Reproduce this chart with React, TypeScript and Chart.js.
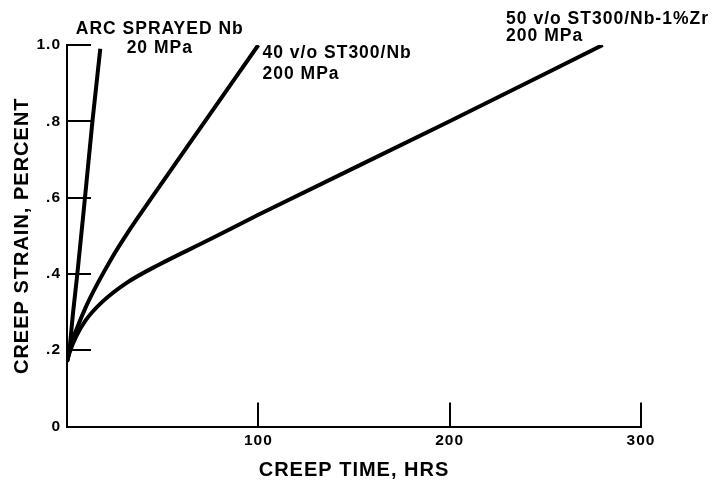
import React, { useEffect, useRef } from "react";
import { Chart, registerables } from "chart.js";

Chart.register(...registerables);

// ---- data ----
const arcTime = [0, 1.2, 3.2, 5.4, 9.4, 13.3, 17.4];
const arcStrain = [0.17, 0.2, 0.3, 0.4, 0.6, 0.8, 0.99];

const st40Time = [0, 2, 5, 10, 16, 23, 32, 45, 70, 100];
const st40Strain = [0.17, 0.213, 0.255, 0.315, 0.375, 0.438, 0.51, 0.605, 0.785, 1.0];

const st50Time = [0, 1.3, 4.8, 10, 18.7, 31, 48, 74.5, 100, 200, 280];
const st50Strain = [0.17, 0.193, 0.236, 0.28, 0.328, 0.376, 0.424, 0.49, 0.555, 0.8, 1.0];

const xTickValues = [0, 100, 200, 300];
const xTickLabels = ["", "100", "200", "300"];
const yTickValues = [0, 0.2, 0.4, 0.6, 0.8, 1.0];
const yTickLabels = ["0", ".2", ".4", ".6", ".8", "1.0"];

const seriesNames = ["ARC SPRAYED Nb", "40 v/o ST300/Nb", "50 v/o ST300/Nb-1%Zr"];
const seriesStress = ["20 MPa", "200 MPa", "200 MPa"];

const xTitle = "CREEP TIME, HRS";
const yTitle = "CREEP STRAIN, PERCENT";

// label anchors (data coordinates) and alignment
const labelAnchors = [
  { x: 48.5, y1: 1.041, y2: 0.991, align: "center" },
  { x: 102.2, y1: 0.979, y2: 0.9235, align: "left" },
  { x: 229.5, y1: 1.067, y2: 1.0236, align: "left" },
];

const FONT = '"Liberation Sans", Arial, Helvetica, sans-serif';

const toPoints = (xs: number[], ys: number[]) => xs.map((x, i) => ({ x, y: ys[i] }));

const spacingPlugin = {
  id: "spacing",
  beforeDraw(chart: any) {
    chart.ctx.letterSpacing = "1px";
  },
};

const decorPlugin = {
  id: "decor",
  afterDatasetsDraw(chart: any) {
    const { ctx, scales } = chart;
    const x = scales.x;
    const y = scales.y;
    ctx.save();
    ctx.strokeStyle = "#000";
    ctx.lineWidth = 2;
    ctx.beginPath();
    y.ticks.forEach((t: any) => {
      if (t.value === 0) return;
      const py = Math.round(y.getPixelForValue(t.value));
      ctx.moveTo(x.left, py);
      ctx.lineTo(x.left + 24, py);
    });
    x.ticks.forEach((t: any) => {
      if (t.value === 0) return;
      const px = Math.round(x.getPixelForValue(t.value));
      ctx.moveTo(px, y.bottom);
      ctx.lineTo(px, y.bottom - 24);
    });
    ctx.stroke();

    ctx.fillStyle = "#000";
    ctx.font = `bold 17.5px ${FONT}`;
    ctx.textBaseline = "middle";
    labelAnchors.forEach((a, i) => {
      ctx.textAlign = a.align;
      const px = x.getPixelForValue(a.x);
      ctx.fillText(seriesNames[i], px, y.getPixelForValue(a.y1));
      ctx.fillText(seriesStress[i], px, y.getPixelForValue(a.y2));
    });
    ctx.restore();
  },
};

export default function App() {
  const canvasRef = useRef<HTMLCanvasElement | null>(null);

  useEffect(() => {
    const canvas = canvasRef.current;
    if (!canvas) return;
    const lineStyle = {
      borderColor: "#000",
      backgroundColor: "#000",
      borderWidth: 4,
      pointRadius: 0,
      fill: false,
      cubicInterpolationMode: "monotone" as const,
    };
    const chart = new Chart(canvas, {
      type: "line",
      data: {
        datasets: [
          { label: seriesNames[0], data: toPoints(arcTime, arcStrain), ...lineStyle },
          { label: seriesNames[1], data: toPoints(st40Time, st40Strain), ...lineStyle },
          { label: seriesNames[2], data: toPoints(st50Time, st50Strain), ...lineStyle },
        ],
      },
      options: {
        animation: false,
        responsive: false,
        events: [],
        layout: { padding: { top: 45, right: 72, left: 0, bottom: 0 } },
        plugins: { legend: { display: false }, tooltip: { enabled: false } },
        scales: {
          x: {
            type: "linear",
            min: 0,
            max: 300,
            grid: { display: false, drawTicks: false },
            border: { display: true, color: "#000", width: 2 },
            afterBuildTicks: (scale: any) => {
              scale.ticks = xTickValues.map((v) => ({ value: v }));
            },
            afterFit: (scale: any) => {
              scale.height = 61.5;
            },
            ticks: {
              autoSkip: false,
              maxRotation: 0,
              padding: 5,
              color: "#000",
              font: { family: FONT, size: 15.5, weight: "bold" },
              callback: (_v: any, i: number) => xTickLabels[i],
            },
            title: {
              display: true,
              text: xTitle,
              color: "#000",
              font: { family: FONT, size: 20, weight: "bold" },
              padding: { top: 0, bottom: 6 },
            },
          },
          y: {
            type: "linear",
            min: 0,
            max: 1.0,
            grid: { display: false, drawTicks: false },
            border: { display: true, color: "#000", width: 2 },
            afterBuildTicks: (scale: any) => {
              scale.ticks = yTickValues.map((v) => ({ value: v }));
            },
            afterFit: (scale: any) => {
              scale.width = 67;
            },
            ticks: {
              autoSkip: false,
              padding: 6,
              color: "#000",
              font: { family: FONT, size: 15.5, weight: "bold" },
              callback: (_v: any, i: number) => yTickLabels[i],
            },
            title: {
              display: true,
              text: yTitle,
              color: "#000",
              font: { family: FONT, size: 20, weight: "bold" },
              padding: { top: 10, bottom: 0 },
            },
          },
        },
      } as any,
      plugins: [spacingPlugin, decorPlugin],
    });
    return () => chart.destroy();
  }, []);

  return (
    <div style={{ position: "fixed", left: 0, top: 0, width: 713, height: 488, background: "#fff" }}>
      <canvas ref={canvasRef} width={713} height={488} style={{ display: "block" }} />
    </div>
  );
}
